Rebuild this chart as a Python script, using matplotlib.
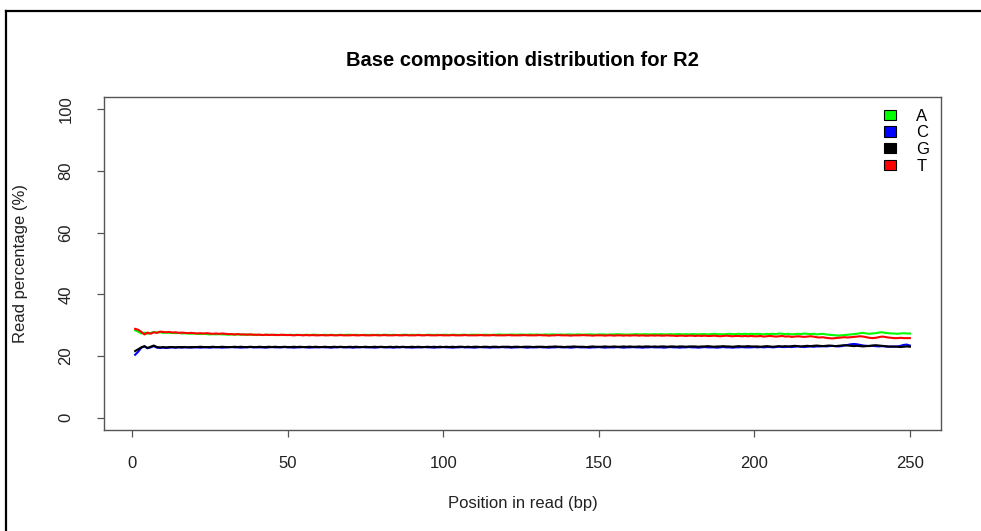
import numpy as np
import matplotlib
matplotlib.use("Agg")
import matplotlib.pyplot as plt
from matplotlib.patches import Patch
from matplotlib.lines import Line2D

plt.rcParams['font.family'] = ['Liberation Sans', 'DejaVu Sans']

# base percentages per read position (1..250)
base_a = [28.3, 27.9, 27.3, 27.6, 27.2, 27.5, 27.8, 27.6, 27.7, 27.5,
          27.6, 27.5, 27.5, 27.4, 27.5, 27.3, 27.4, 27.3, 27.2, 27.3,
          27.2, 27.1, 27.2, 27.1, 27.0, 27.1, 27.0, 27.1, 27.0, 27.0,
          26.9, 27.0, 26.9, 27.0, 26.9, 26.9, 27.0, 26.9, 26.9, 26.8,
          26.9, 26.8, 26.9, 26.9, 26.8, 26.9, 26.8, 26.8, 26.9, 26.8,
          26.9, 26.8, 26.9, 26.8, 26.8, 26.9, 26.8, 26.9, 26.9, 26.8,
          26.8, 26.9, 26.8, 26.9, 26.8, 26.8, 26.9, 26.8, 26.9, 26.9,
          26.8, 26.9, 26.8, 26.8, 26.9, 26.8, 26.9, 26.8, 26.9, 26.8,
          26.9, 26.9, 26.8, 26.9, 26.8, 26.8, 26.9, 26.9, 26.8, 26.9,
          26.8, 26.9, 26.8, 26.8, 26.9, 26.9, 26.8, 26.9, 26.8, 26.9,
          26.9, 26.8, 26.9, 26.9, 26.8, 26.9, 26.9, 26.8, 26.9, 26.9,
          26.9, 26.8, 26.9, 26.9, 26.8, 26.9, 26.9, 27.0, 26.9, 26.9,
          26.9, 27.0, 26.9, 26.9, 27.0, 26.9, 26.9, 27.0, 26.9, 27.0,
          26.9, 26.9, 27.0, 26.9, 27.0, 27.0, 26.9, 27.0, 26.9, 27.0,
          27.0, 26.9, 27.0, 27.0, 26.9, 27.0, 27.0, 27.0, 26.9, 27.0,
          27.0, 27.0, 26.9, 27.0, 27.0, 27.1, 27.0, 27.0, 26.9, 27.0,
          27.0, 27.1, 27.0, 27.0, 27.1, 27.0, 27.0, 27.1, 27.0, 27.1,
          27.0, 27.0, 27.1, 27.0, 27.1, 27.1, 27.0, 27.1, 27.0, 27.1,
          27.1, 27.0, 27.1, 27.1, 27.0, 27.1, 27.2, 27.1, 27.1, 27.0,
          27.1, 27.2, 27.1, 27.1, 27.2, 27.1, 27.2, 27.1, 27.2, 27.1,
          27.2, 27.1, 27.0, 27.2, 27.1, 27.2, 27.1, 27.3, 27.2, 27.1,
          27.2, 27.0, 27.1, 27.2, 27.1, 27.3, 27.2, 27.1, 27.2, 27.0,
          27.1, 27.2, 27.0, 26.9, 26.8, 26.7, 26.6, 26.7, 26.8, 26.9,
          27.0, 27.1, 27.2, 27.4, 27.5, 27.3, 27.2, 27.3, 27.4, 27.6,
          27.7, 27.5, 27.4, 27.3, 27.3, 27.2, 27.3, 27.4, 27.3, 27.3]

base_c = [20.4, 21.4, 22.7, 23.1, 22.5, 22.8, 23.2, 22.7, 22.6, 22.7,
          22.6, 22.7, 22.8, 22.7, 22.8, 22.7, 22.8, 22.8, 22.7, 22.8,
          22.8, 22.7, 22.8, 22.8, 22.7, 22.8, 22.8, 22.8, 22.7, 22.8,
          22.8, 22.9, 22.8, 22.8, 22.7, 22.8, 22.8, 22.9, 22.8, 22.8,
          22.8, 22.8, 22.7, 22.8, 22.9, 22.8, 22.8, 22.8, 22.9, 22.8,
          22.8, 22.7, 22.8, 22.8, 22.9, 22.8, 22.7, 22.8, 22.8, 22.8,
          22.9, 22.8, 22.8, 22.7, 22.8, 22.8, 22.9, 22.8, 22.8, 22.8,
          22.7, 22.8, 22.8, 22.9, 22.8, 22.8, 22.8, 22.7, 22.8, 22.9,
          22.8, 22.8, 22.8, 22.7, 22.8, 22.8, 22.9, 22.8, 22.8, 22.7,
          22.8, 22.8, 22.8, 22.9, 22.8, 22.8, 22.7, 22.8, 22.8, 22.9,
          22.8, 22.8, 22.7, 22.8, 22.8, 22.9, 22.8, 22.8, 22.8, 22.7,
          22.8, 22.9, 22.8, 22.8, 22.7, 22.8, 22.8, 22.8, 22.9, 22.8,
          22.8, 22.7, 22.8, 22.8, 22.9, 22.8, 22.7, 22.8, 22.8, 22.8,
          22.9, 22.8, 22.8, 22.7, 22.8, 22.8, 22.9, 22.8, 22.8, 22.8,
          22.7, 22.8, 22.9, 22.8, 22.8, 22.8, 22.7, 22.8, 22.8, 22.9,
          22.8, 22.7, 22.8, 22.8, 22.8, 22.9, 22.8, 22.7, 22.8, 22.8,
          22.9, 22.8, 22.8, 22.7, 22.8, 22.8, 22.9, 22.8, 22.8, 22.8,
          22.7, 22.8, 22.9, 22.8, 22.8, 22.7, 22.8, 22.8, 22.9, 22.8,
          22.8, 22.7, 22.8, 22.9, 22.8, 22.8, 22.8, 22.7, 22.8, 22.9,
          22.8, 22.8, 22.7, 22.8, 22.8, 22.9, 22.8, 22.8, 22.8, 22.9,
          22.8, 22.9, 22.8, 22.9, 22.9, 22.8, 22.9, 23.0, 22.9, 22.9,
          23.0, 22.9, 23.0, 23.1, 23.0, 22.9, 23.0, 23.1, 23.0, 23.1,
          23.1, 23.2, 23.1, 23.2, 23.3, 23.2, 23.1, 23.2, 23.4, 23.6,
          23.8, 23.9, 23.8, 23.6, 23.4, 23.3, 23.2, 23.3, 23.2, 23.1,
          23.2, 23.1, 23.0, 23.1, 23.0, 23.1, 23.3, 23.6, 23.7, 23.4]

base_g = [21.6, 22.2, 22.8, 23.2, 22.6, 23.0, 23.4, 22.9, 22.8, 22.9,
          22.8, 22.9, 22.9, 22.8, 22.9, 22.9, 22.9, 22.8, 22.9, 22.9,
          22.9, 23.0, 22.9, 22.9, 22.9, 23.0, 22.9, 22.9, 23.0, 22.9,
          22.9, 22.9, 23.0, 22.9, 23.0, 22.9, 22.9, 23.0, 22.9, 22.9,
          23.0, 22.9, 22.9, 23.0, 22.9, 23.0, 22.9, 22.9, 23.0, 22.9,
          22.9, 23.0, 22.9, 23.0, 22.9, 22.9, 23.0, 22.9, 23.0, 22.9,
          22.9, 23.0, 22.9, 22.9, 23.0, 22.9, 23.0, 22.9, 22.9, 23.0,
          22.9, 23.0, 22.9, 22.9, 23.0, 22.9, 22.9, 23.0, 22.9, 23.0,
          22.9, 22.9, 23.0, 22.9, 23.0, 22.9, 23.0, 22.9, 22.9, 23.0,
          22.9, 23.0, 22.9, 22.9, 23.0, 22.9, 23.0, 22.9, 23.0, 22.9,
          23.0, 22.9, 23.0, 22.9, 23.0, 23.0, 22.9, 23.0, 22.9, 23.0,
          23.0, 22.9, 23.0, 23.0, 22.9, 23.0, 23.0, 22.9, 23.0, 23.0,
          23.0, 22.9, 23.0, 23.0, 22.9, 23.0, 23.0, 23.0, 22.9, 23.0,
          23.0, 23.0, 22.9, 23.0, 23.0, 23.1, 23.0, 23.0, 22.9, 23.0,
          23.0, 23.1, 23.0, 23.0, 23.0, 22.9, 23.0, 23.1, 23.0, 23.0,
          23.0, 23.1, 23.0, 23.0, 23.1, 23.0, 23.0, 23.1, 23.0, 23.1,
          23.0, 23.0, 23.1, 23.0, 23.1, 23.1, 23.0, 23.1, 23.0, 23.1,
          23.1, 23.0, 23.1, 23.1, 23.0, 23.1, 23.1, 23.0, 23.1, 23.1,
          23.1, 23.0, 23.1, 23.1, 23.2, 23.1, 23.0, 23.1, 23.1, 23.2,
          23.1, 23.1, 23.0, 23.1, 23.2, 23.1, 23.1, 23.2, 23.1, 23.1,
          23.1, 23.0, 23.1, 23.2, 23.1, 23.0, 23.1, 23.2, 23.1, 23.2,
          23.1, 23.2, 23.3, 23.2, 23.1, 23.2, 23.3, 23.2, 23.3, 23.4,
          23.3, 23.2, 23.3, 23.4, 23.3, 23.2, 23.3, 23.4, 23.5, 23.4,
          23.3, 23.2, 23.3, 23.2, 23.1, 23.2, 23.3, 23.4, 23.5, 23.4,
          23.3, 23.2, 23.1, 23.0, 23.1, 23.0, 22.9, 23.0, 23.1, 23.0]

base_t = [28.8, 28.5, 27.8, 27.0, 27.6, 27.2, 27.7, 27.5, 27.9, 27.8,
          27.7, 27.8, 27.6, 27.7, 27.5, 27.6, 27.5, 27.4, 27.5, 27.4,
          27.3, 27.4, 27.3, 27.4, 27.3, 27.2, 27.3, 27.2, 27.3, 27.2,
          27.1, 27.1, 27.0, 27.1, 27.0, 27.0, 26.9, 27.0, 26.9, 26.9,
          26.9, 26.8, 26.9, 26.8, 26.9, 26.8, 26.8, 26.9, 26.8, 26.8,
          26.8, 26.7, 26.8, 26.8, 26.7, 26.8, 26.7, 26.8, 26.7, 26.7,
          26.8, 26.7, 26.7, 26.8, 26.7, 26.7, 26.8, 26.7, 26.7, 26.7,
          26.8, 26.7, 26.7, 26.8, 26.7, 26.7, 26.7, 26.8, 26.7, 26.7,
          26.8, 26.7, 26.7, 26.7, 26.8, 26.7, 26.7, 26.8, 26.7, 26.7,
          26.7, 26.8, 26.7, 26.7, 26.8, 26.7, 26.7, 26.7, 26.8, 26.7,
          26.7, 26.7, 26.8, 26.7, 26.7, 26.7, 26.8, 26.7, 26.7, 26.7,
          26.7, 26.8, 26.7, 26.7, 26.7, 26.8, 26.7, 26.7, 26.7, 26.7,
          26.8, 26.7, 26.7, 26.7, 26.7, 26.8, 26.7, 26.7, 26.7, 26.7,
          26.8, 26.7, 26.7, 26.6, 26.7, 26.7, 26.8, 26.7, 26.7, 26.7,
          26.6, 26.7, 26.7, 26.7, 26.8, 26.7, 26.7, 26.6, 26.7, 26.7,
          26.7, 26.6, 26.7, 26.7, 26.6, 26.7, 26.7, 26.6, 26.7, 26.6,
          26.7, 26.7, 26.6, 26.7, 26.6, 26.6, 26.7, 26.6, 26.7, 26.6,
          26.6, 26.7, 26.6, 26.6, 26.5, 26.6, 26.6, 26.5, 26.6, 26.6,
          26.5, 26.6, 26.5, 26.6, 26.5, 26.5, 26.6, 26.5, 26.4, 26.5,
          26.6, 26.5, 26.4, 26.5, 26.5, 26.4, 26.5, 26.4, 26.5, 26.4,
          26.4, 26.5, 26.3, 26.4, 26.5, 26.4, 26.3, 26.4, 26.5, 26.3,
          26.4, 26.2, 26.3, 26.4, 26.3, 26.2, 26.3, 26.4, 26.3, 26.1,
          26.0, 26.1, 25.9, 25.8, 25.7, 25.8, 25.9, 26.0, 26.1, 26.0,
          26.1, 26.2, 26.3, 26.4, 26.3, 26.1, 25.9, 25.8, 25.9, 26.1,
          26.3, 26.2, 26.0, 25.9, 25.8, 25.8, 25.9, 25.8, 25.8, 25.8]

bases = ['A', 'C', 'G', 'T']
series = [base_a, base_c, base_g, base_t]
colors = ['#00ff00', '#0000ff', '#000000', '#ff0000']

fig = plt.figure(figsize=(9.81, 5.31), dpi=100)
ax = fig.add_axes([104 / 981, 101 / 531, 837 / 981, 333 / 531])

for vals, col in zip(series, colors):
    pos = np.arange(1, len(vals) + 1)
    ax.plot(pos, vals, '-', color=col, lw=1.5)

ax.set_xlim(-9, 260)
ax.set_ylim(-4, 104)
ax.set_xticks([0, 50, 100, 150, 200, 250])
ax.set_yticks([0, 20, 40, 60, 80, 100])
for s in ax.spines.values():
    s.set_color('#555555')
    s.set_linewidth(1.0)
ax.tick_params(direction='out', length=5, width=0.9, color='#555555',
               labelsize=12, labelcolor='#222222')
ax.tick_params(axis='x', pad=14)
ax.tick_params(axis='y', pad=17)
plt.setp(ax.get_yticklabels(), rotation=90, va='center')

ax.set_title('Base composition distribution for R2', fontsize=14.5,
             fontweight='bold', pad=22)
ax.set_xlabel('Position in read (bp)', fontsize=12, labelpad=18, color='#222222')
ax.set_ylabel('Read percentage (%)', fontsize=12, labelpad=22, color='#222222')

handles = [Patch(facecolor=c, edgecolor='black', lw=0.8) for c in colors]
ax.legend(handles, bases, loc='upper right', frameon=False, fontsize=12,
          handlelength=0.75, handleheight=0.6, handletextpad=1.2,
          labelspacing=0.1, borderaxespad=0.3)

# outer frame of the image (top and left edges)
fig.add_artist(Line2D([6 / 981, 1], [1 - 11 / 531, 1 - 11 / 531],
                      transform=fig.transFigure, color='black', lw=1.6))
fig.add_artist(Line2D([6 / 981, 6 / 981], [0, 1 - 11 / 531],
                      transform=fig.transFigure, color='black', lw=1.6))

fig.savefig('out.png', dpi=100)
